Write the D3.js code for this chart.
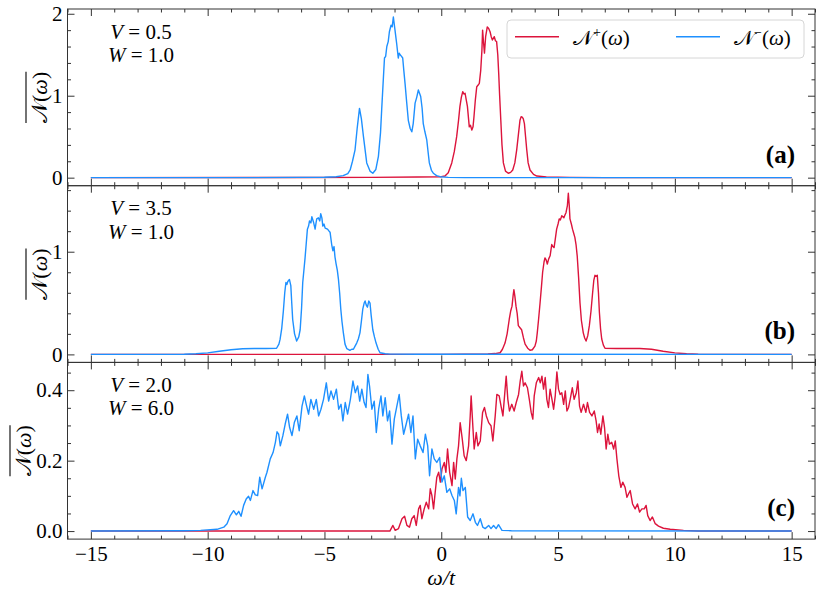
<!DOCTYPE html>
<html>
<head>
<meta charset="utf-8">
<script src="https://cdn.jsdelivr.net/npm/d3@7"></script>
<style>
  body { margin: 0; background: #fff; }
</style>
</head>
<body>
<div id="chart"></div>
<script>
// ---- data: [omega/t, N(omega)] ----

// panel (a)  V = 0.5, W = 1.0
const aPlus = [[-15,0],[-6,0.002],[-3,0.004],[-1,0.008],[0,0.012],[0.16,0.02],[0.3,0.06],[0.45,0.18],[0.56,0.32],[0.66,0.5],[0.74,0.7],[0.8,0.87],[0.86,0.98],[0.92,1.05],[0.97,1.02],[1.02,1.03],[1.07,0.95],[1.12,0.87],[1.2,0.62],[1.25,0.64],[1.31,0.58],[1.36,0.62],[1.4,0.74],[1.46,0.95],[1.52,1.11],[1.58,1.13],[1.63,1.15],[1.69,1.31],[1.74,1.55],[1.77,1.8],[1.81,1.65],[1.85,1.52],[1.9,1.72],[1.97,1.84],[2.03,1.82],[2.09,1.78],[2.14,1.72],[2.19,1.68],[2.27,1.72],[2.32,1.67],[2.37,1.66],[2.42,1.5],[2.46,1.27],[2.5,1.0],[2.55,0.7],[2.6,0.4],[2.66,0.18],[2.75,0.08],[2.87,0.054],[2.97,0.065],[3.06,0.094],[3.15,0.18],[3.23,0.34],[3.3,0.52],[3.37,0.7],[3.42,0.745],[3.46,0.74],[3.51,0.72],[3.56,0.66],[3.61,0.5],[3.66,0.34],[3.72,0.18],[3.8,0.094],[3.95,0.04],[4.09,0.02],[4.5,0.01],[5.5,0.003],[7,0],[15,0]];
const aMinus = [[-15,0],[-8,0],[-6,0.003],[-5,0.006],[-4.5,0.012],[-4.2,0.025],[-4.0,0.05],[-3.9,0.094],[-3.8,0.2],[-3.69,0.34],[-3.6,0.6],[-3.5,0.846],[-3.42,0.72],[-3.33,0.5],[-3.19,0.18],[-3.05,0.08],[-2.93,0.054],[-2.8,0.1],[-2.69,0.26],[-2.6,0.55],[-2.55,0.83],[-2.48,1.2],[-2.43,1.46],[-2.38,1.48],[-2.33,1.6],[-2.27,1.66],[-2.22,1.78],[-2.15,1.86],[-2.1,1.84],[-2.05,1.96],[-1.98,1.8],[-1.91,1.64],[-1.84,1.46],[-1.8,1.52],[-1.76,1.5],[-1.7,1.48],[-1.65,1.46],[-1.6,1.3],[-1.55,1.15],[-1.48,0.92],[-1.41,0.7],[-1.33,0.6],[-1.26,0.56],[-1.2,0.66],[-1.12,0.91],[-1.05,0.98],[-0.98,1.07],[-0.93,1.03],[-0.88,0.99],[-0.82,0.85],[-0.77,0.66],[-0.7,0.56],[-0.62,0.46],[-0.55,0.28],[-0.51,0.18],[-0.42,0.09],[-0.34,0.054],[-0.2,0.025],[-0.05,0.012],[0.3,0.004],[1,0.001],[15,0]];

// panel (b)  V = 3.5, W = 1.0
const bPlus = [[-15,0],[0,0],[1,0.001],[2,0.004],[2.3,0.008],[2.52,0.016],[2.62,0.05],[2.73,0.11],[2.82,0.2],[2.91,0.34],[2.97,0.42],[3.03,0.47],[3.08,0.58],[3.11,0.63],[3.15,0.57],[3.2,0.47],[3.25,0.4],[3.3,0.28],[3.37,0.26],[3.44,0.24],[3.52,0.16],[3.59,0.1],[3.7,0.06],[3.8,0.04],[3.9,0.045],[4.01,0.08],[4.07,0.13],[4.11,0.21],[4.17,0.35],[4.23,0.5],[4.29,0.66],[4.34,0.8],[4.4,0.9],[4.44,0.94],[4.49,0.92],[4.54,0.88],[4.6,0.93],[4.66,0.96],[4.73,1.07],[4.78,1.05],[4.83,1.04],[4.88,1.12],[4.94,1.22],[5.0,1.27],[5.05,1.32],[5.1,1.31],[5.16,1.35],[5.25,1.33],[5.3,1.36],[5.34,1.38],[5.4,1.45],[5.44,1.57],[5.48,1.45],[5.51,1.32],[5.57,1.27],[5.62,1.22],[5.67,1.18],[5.72,1.14],[5.77,1.07],[5.82,0.96],[5.88,0.75],[5.94,0.5],[6.0,0.33],[6.08,0.21],[6.14,0.16],[6.2,0.13],[6.27,0.18],[6.34,0.28],[6.41,0.42],[6.48,0.6],[6.53,0.72],[6.58,0.77],[6.63,0.76],[6.68,0.77],[6.73,0.6],[6.77,0.41],[6.82,0.25],[6.87,0.15],[6.94,0.09],[7.01,0.06],[7.5,0.058],[8,0.058],[8.5,0.057],[9,0.05],[9.5,0.03],[10,0.015],[10.5,0.006],[11,0.002],[12,0],[15,0]];
const bMinus = [[-15,0],[-12,0],[-11,0.002],[-10.5,0.006],[-10,0.015],[-9.5,0.03],[-9,0.045],[-8.5,0.055],[-8,0.058],[-7.5,0.058],[-7.05,0.06],[-6.95,0.1],[-6.9,0.146],[-6.83,0.25],[-6.76,0.42],[-6.7,0.6],[-6.65,0.7],[-6.61,0.68],[-6.57,0.71],[-6.5,0.73],[-6.44,0.67],[-6.4,0.5],[-6.36,0.34],[-6.28,0.2],[-6.19,0.13],[-6.1,0.17],[-6.04,0.24],[-5.98,0.45],[-5.93,0.7],[-5.88,0.82],[-5.83,0.94],[-5.78,1.08],[-5.73,1.22],[-5.68,1.25],[-5.64,1.3],[-5.58,1.28],[-5.54,1.34],[-5.47,1.29],[-5.4,1.22],[-5.36,1.28],[-5.33,1.32],[-5.26,1.33],[-5.2,1.3],[-5.16,1.37],[-5.11,1.33],[-5.07,1.25],[-5.02,1.27],[-4.97,1.23],[-4.87,1.22],[-4.8,1.2],[-4.76,1.19],[-4.69,1.07],[-4.64,1.01],[-4.59,1.05],[-4.55,0.95],[-4.5,0.88],[-4.45,0.82],[-4.4,0.73],[-4.35,0.6],[-4.3,0.44],[-4.25,0.32],[-4.19,0.21],[-4.12,0.1],[-4.04,0.055],[-3.91,0.04],[-3.83,0.05],[-3.76,0.05],[-3.69,0.08],[-3.62,0.11],[-3.55,0.15],[-3.48,0.21],[-3.42,0.32],[-3.36,0.44],[-3.3,0.5],[-3.26,0.52],[-3.21,0.48],[-3.16,0.46],[-3.1,0.52],[-3.05,0.5],[-3.0,0.38],[-2.93,0.24],[-2.86,0.17],[-2.79,0.11],[-2.7,0.05],[-2.62,0.016],[-2.4,0.006],[-2.19,0.003],[-1,0.001],[15,0]];

// panel (c)  V = 2.0, W = 6.0
const cPlus = [[-15,0],[-2.2,0],[-2.07,0.016],[-1.97,0.002],[-1.83,0.007],[-1.68,0.035],[-1.57,0.042],[-1.47,0.016],[-1.36,0.011],[-1.26,0.035],[-1.16,0.044],[-1.07,0.016],[-0.97,0.063],[-0.9,0.073],[-0.83,0.035],[-0.73,0.063],[-0.64,0.082],[-0.54,0.063],[-0.47,0.12],[-0.4,0.101],[-0.33,0.063],[-0.26,0.11],[-0.19,0.153],[-0.11,0.167],[-0.04,0.139],[0.03,0.176],[0.13,0.195],[0.2,0.167],[0.27,0.233],[0.36,0.167],[0.46,0.129],[0.53,0.195],[0.6,0.148],[0.67,0.205],[0.74,0.242],[0.81,0.308],[0.9,0.261],[0.98,0.214],[1.07,0.2],[1.17,0.242],[1.24,0.327],[1.28,0.384],[1.36,0.289],[1.41,0.233],[1.5,0.28],[1.57,0.242],[1.67,0.256],[1.77,0.337],[1.85,0.351],[1.93,0.327],[2.03,0.308],[2.13,0.299],[2.21,0.256],[2.31,0.327],[2.38,0.388],[2.48,0.384],[2.57,0.351],[2.64,0.327],[2.71,0.384],[2.78,0.44],[2.85,0.374],[2.92,0.341],[3.02,0.36],[3.12,0.341],[3.21,0.365],[3.31,0.388],[3.38,0.426],[3.45,0.454],[3.52,0.412],[3.59,0.421],[3.69,0.407],[3.78,0.37],[3.85,0.337],[3.92,0.318],[3.98,0.384],[4.07,0.421],[4.17,0.436],[4.24,0.421],[4.31,0.44],[4.38,0.403],[4.45,0.436],[4.52,0.374],[4.59,0.351],[4.66,0.403],[4.74,0.374],[4.81,0.346],[4.88,0.384],[4.95,0.452],[5.02,0.403],[5.09,0.388],[5.16,0.393],[5.24,0.36],[5.31,0.398],[5.38,0.341],[5.45,0.351],[5.52,0.374],[5.61,0.407],[5.69,0.374],[5.78,0.393],[5.85,0.426],[5.92,0.355],[5.99,0.337],[6.09,0.36],[6.19,0.337],[6.26,0.365],[6.35,0.337],[6.45,0.327],[6.55,0.341],[6.63,0.313],[6.69,0.28],[6.76,0.304],[6.83,0.275],[6.92,0.327],[6.99,0.294],[7.06,0.233],[7.13,0.275],[7.2,0.247],[7.3,0.252],[7.38,0.233],[7.45,0.256],[7.52,0.205],[7.6,0.157],[7.69,0.124],[7.77,0.139],[7.87,0.124],[7.95,0.096],[8.02,0.106],[8.09,0.115],[8.19,0.077],[8.3,0.063],[8.4,0.077],[8.49,0.054],[8.59,0.063],[8.69,0.063],[8.77,0.073],[8.84,0.044],[8.94,0.03],[9.04,0.04],[9.16,0.021],[9.3,0.014],[9.51,0.008],[9.8,0.005],[10.37,0.002],[11,0],[15,0]];
const cMinus = [[-15,0],[-11,0.001],[-10.3,0.002],[-9.6,0.005],[-9.31,0.011],[-9.17,0.021],[-9.03,0.044],[-8.89,0.058],[-8.77,0.046],[-8.67,0.056],[-8.57,0.042],[-8.46,0.073],[-8.35,0.091],[-8.25,0.099],[-8.17,0.087],[-8.06,0.115],[-7.96,0.103],[-7.86,0.101],[-7.77,0.153],[-7.67,0.12],[-7.53,0.153],[-7.46,0.167],[-7.32,0.205],[-7.2,0.223],[-7.1,0.252],[-7.03,0.282],[-6.96,0.275],[-6.89,0.242],[-6.78,0.271],[-6.68,0.304],[-6.58,0.332],[-6.49,0.294],[-6.39,0.271],[-6.29,0.308],[-6.18,0.327],[-6.08,0.285],[-5.96,0.355],[-5.86,0.384],[-5.78,0.36],[-5.68,0.332],[-5.58,0.374],[-5.46,0.346],[-5.35,0.374],[-5.25,0.327],[-5.15,0.346],[-5.04,0.374],[-4.92,0.421],[-4.82,0.369],[-4.72,0.398],[-4.61,0.374],[-4.49,0.403],[-4.39,0.346],[-4.29,0.36],[-4.21,0.313],[-4.11,0.365],[-4.01,0.332],[-3.89,0.374],[-3.78,0.426],[-3.68,0.393],[-3.58,0.412],[-3.49,0.369],[-3.4,0.403],[-3.3,0.365],[-3.22,0.351],[-3.14,0.445],[-3.07,0.412],[-2.97,0.346],[-2.87,0.369],[-2.78,0.28],[-2.68,0.346],[-2.58,0.384],[-2.5,0.327],[-2.4,0.379],[-2.3,0.313],[-2.21,0.341],[-2.11,0.247],[-2.01,0.318],[-1.9,0.355],[-1.8,0.388],[-1.71,0.327],[-1.61,0.275],[-1.5,0.304],[-1.4,0.332],[-1.3,0.28],[-1.21,0.327],[-1.11,0.205],[-1.01,0.261],[-0.9,0.242],[-0.78,0.223],[-0.68,0.275],[-0.58,0.242],[-0.5,0.157],[-0.4,0.233],[-0.3,0.205],[-0.19,0.195],[-0.07,0.209],[0.03,0.139],[0.13,0.157],[0.24,0.11],[0.36,0.12],[0.46,0.101],[0.56,0.087],[0.64,0.049],[0.74,0.124],[0.8,0.1],[0.86,0.15],[0.93,0.115],[1.03,0.124],[1.13,0.04],[1.24,0.03],[1.36,0.049],[1.46,0.025],[1.55,0.016],[1.67,0.035],[1.78,0.011],[1.88,0.007],[2.03,0.016],[2.13,0.007],[2.24,0.016],[2.35,0.007],[2.45,0.018],[2.6,0.002],[3,0.001],[15,0]];

// ticks
const xTicks = [-15, -10, -5, 0, 5, 10, 15];
const aYTicks = [0, 1, 2];
const bYTicks = [0, 1];
const cYTicks = [0.0, 0.2, 0.4];
const panelNames = ["a", "b", "c"];
const vValues = ["0.5", "3.5", "2.0"];
const wValues = ["1.0", "1.0", "6.0"];

// ---- layout ----
const W = 822, H = 597;
const left = 67.5, right = 815, top0 = 9, panelH = 176.7;
const red = "#dc143c", blue = "#1e90ff", spine = "#333";
const serif = "'Liberation Serif', 'Times New Roman', 'DejaVu Serif', serif";

const svg = d3.select("#chart").append("svg")
  .attr("width", W).attr("height", H);

const x = d3.scaleLinear().domain([-16, 16]).range([left, right]);

const panels = [
  { plus: aPlus, minus: aMinus, yDom: [-0.098, 2.058], ticks: aYTicks, minor: 0.2, fmt: d3.format("d"), labX: 47 },
  { plus: bPlus, minus: bMinus, yDom: [-0.078, 1.643], ticks: bYTicks, minor: 0.2, fmt: d3.format("d"), labX: 47 },
  { plus: cPlus, minus: cMinus, yDom: [-0.0228, 0.479], ticks: cYTicks, minor: 0.05, fmt: d3.format(".1f"), labX: 31 }
];

const xMinor = d3.range(-16, 16.01, 1).filter(v => !xTicks.includes(v));

panels.forEach((p, i) => {
  const t = top0 + i * panelH, b = t + panelH;
  const y = d3.scaleLinear().domain(p.yDom).range([b, t]);
  const g = svg.append("g");

  const yMinor = d3.range(0, p.yDom[1], p.minor)
    .map(v => +v.toFixed(3))
    .filter(v => !p.ticks.some(tk => Math.abs(tk - v) < 1e-6));

  // data lines: N+ first, N- on top
  const line = d3.line().x(d => x(d[0])).y(d => y(d[1]));
  g.append("path").datum(p.plus)
    .attr("fill", "none").attr("stroke", red).attr("stroke-width", 1.4)
    .attr("stroke-linejoin", "round").attr("d", line);
  g.append("path").datum(p.minus)
    .attr("fill", "none").attr("stroke", blue).attr("stroke-width", 1.4)
    .attr("stroke-linejoin", "round").attr("d", line);

  // axes (inward ticks on all four sides)
  const addAxis = (axis, tr) => {
    const a = g.append("g").attr("transform", tr).call(axis);
    a.select(".domain").remove();
    a.selectAll(".tick line").attr("stroke", spine);
    return a;
  };
  const bottom = addAxis(d3.axisBottom(x).tickValues(xTicks).tickSize(-7).tickPadding(7)
      .tickFormat(i === 2 ? d3.format("d") : ""), `translate(0,${b})`);
  bottom.selectAll("text").style("font-size", "21px").attr("fill", "#000");
  addAxis(d3.axisBottom(x).tickValues(xMinor).tickSize(-3.5).tickFormat(""), `translate(0,${b})`);
  addAxis(d3.axisTop(x).tickValues(xTicks).tickSize(-7).tickFormat(""), `translate(0,${t})`);
  addAxis(d3.axisTop(x).tickValues(xMinor).tickSize(-3.5).tickFormat(""), `translate(0,${t})`);

  const leftAx = addAxis(d3.axisLeft(y).tickValues(p.ticks).tickSize(-7).tickPadding(5)
      .tickFormat(p.fmt), `translate(${left},0)`);
  leftAx.selectAll("text").style("font-size", "21px").attr("fill", "#000");
  addAxis(d3.axisLeft(y).tickValues(yMinor).tickSize(-3.5).tickFormat(""), `translate(${left},0)`);
  addAxis(d3.axisRight(y).tickValues(p.ticks).tickSize(-7).tickFormat(""), `translate(${right},0)`);
  addAxis(d3.axisRight(y).tickValues(yMinor).tickSize(-3.5).tickFormat(""), `translate(${right},0)`);

  // frame
  g.append("rect").attr("x", left).attr("y", t).attr("width", right - left).attr("height", panelH)
    .attr("fill", "none").attr("stroke", spine).attr("stroke-width", 1);

  // V / W annotation
  const ann = g.append("text").attr("text-anchor", "middle").style("font-size", "21px");
  const l1 = ann.append("tspan").attr("x", 141).attr("y", t + 29.5);
  l1.append("tspan").style("font-style", "italic").text("V");
  l1.append("tspan").text(" = " + vValues[i]);
  const l2 = ann.append("tspan").attr("x", 141).attr("y", t + 53);
  l2.append("tspan").style("font-style", "italic").text("W");
  l2.append("tspan").text(" = " + wValues[i]);

  // panel letter
  g.append("text").attr("x", 795).attr("y", b - 23)
    .attr("text-anchor", "end").style("font-size", "25px").style("font-weight", "bold")
    .text("(" + panelNames[i] + ")");

  // y label with overline
  const yl = g.append("g").attr("transform", `translate(${p.labX},${(t + b) / 2}) rotate(-90)`);
  const ylt = yl.append("text").attr("text-anchor", "middle").style("font-size", "22px")
    .style("font-family", serif);
  ylt.append("tspan").text("𝒩(");
  ylt.append("tspan").style("font-style", "italic").text("ω");
  ylt.append("tspan").text(")");
  const bb = ylt.node().getBBox();
  yl.append("line").attr("x1", bb.x).attr("x2", bb.x + bb.width)
    .attr("y1", bb.y - 1).attr("y2", bb.y - 1).attr("stroke", "#000").attr("stroke-width", 1.1);
});

// x label
const xl = svg.append("text").attr("x", x(0)).attr("y", 585)
  .attr("text-anchor", "middle").style("font-size", "22px").style("font-style", "italic");
xl.append("tspan").text("ω/t");

// legend
const lg = svg.append("g");
lg.append("rect").attr("x", 507).attr("y", 20).attr("width", 297).attr("height", 38).attr("rx", 4)
  .attr("fill", "#fff").attr("fill-opacity", 0.8).attr("stroke", "#d6d6d6");
const legendItems = [
  { color: red, sup: "+", x0: 515 },
  { color: blue, sup: "−", x0: 676 }
];
legendItems.forEach(d => {
  lg.append("line").attr("x1", d.x0).attr("x2", d.x0 + 44).attr("y1", 36.7).attr("y2", 36.7)
    .attr("stroke", d.color).attr("stroke-width", 1.6);
  const tx = lg.append("text").attr("x", d.x0 + 58).attr("y", 45).style("font-size", "21px");
  tx.append("tspan").text("𝒩");
  tx.append("tspan").attr("dy", -8).style("font-size", "14px").text(d.sup);
  tx.append("tspan").attr("dy", 8).text("(");
  tx.append("tspan").style("font-style", "italic").text("ω");
  tx.append("tspan").text(")");
});

// one serif face for every label, overriding the axis default
svg.selectAll("text").style("font-family", serif);
</script>
</body>
</html>
